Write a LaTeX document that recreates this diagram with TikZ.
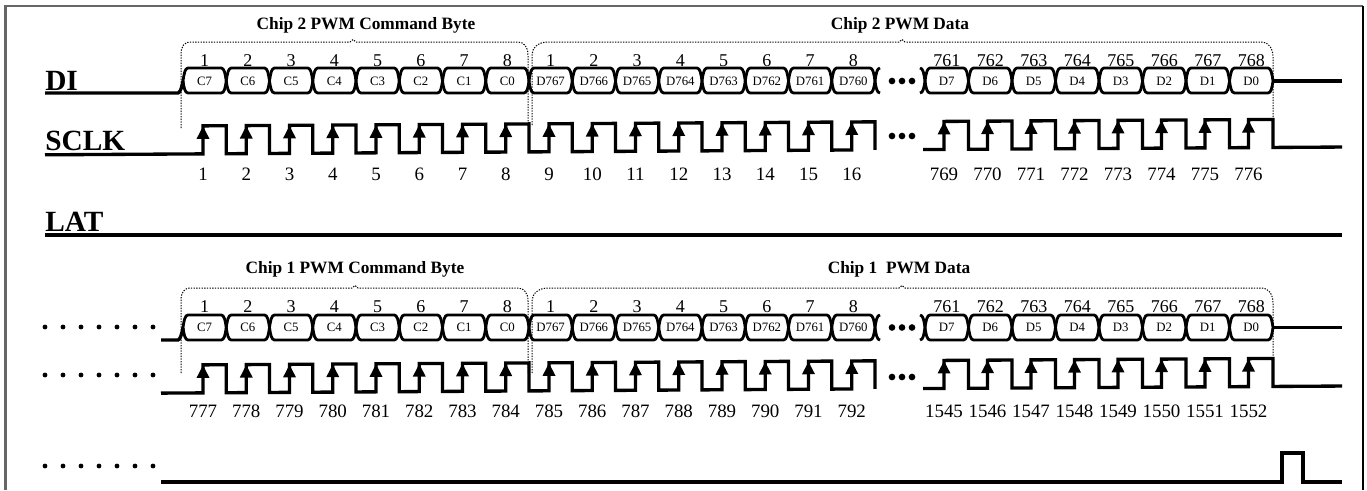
\documentclass[tikz,border=0pt]{standalone}
\usepackage{fontspec}
\setmainfont{Liberation Serif}
\tikzset{
  sig/.style={line width=2.5pt, line join=miter},
  boxl/.style={line width=2.1pt, line join=round},
  guide/.style={line width=0.75pt, dash pattern=on 1pt off 1pt},
  siglab/.style={anchor=base west, inner sep=0pt, font=\fontsize{22}{22}\selectfont\bfseries},
  ttl/.style={anchor=base, inner sep=0pt, font=\fontsize{13}{13}\selectfont\bfseries},
  bnum/.style={anchor=base, inner sep=0pt, font=\fontsize{13.5}{13.5}\selectfont},
  cnum/.style={anchor=base, inner sep=0pt, font=\fontsize{14.2}{14.2}\selectfont},
  btxt/.style={inner sep=0pt, font=\fontsize{9.6}{9.6}\selectfont},
}
% #1 left, #2 right, #3 top, #4 bottom, #5 mid
\newcommand{\dibox}[5]{%
  \draw[boxl] (#1,#5) .. controls (#1+1,#5-7) and (#1+2,#3) .. (#1+5,#3) -- (#2-5,#3)
    .. controls (#2-2,#3) and (#2-1,#5-7) .. (#2,#5)
    .. controls (#2-1,#5+7) and (#2-2,#4) .. (#2-5,#4) -- (#1+5,#4)
    .. controls (#1+2,#4) and (#1+1,#5+7) .. cycle;}
% DI row: #1 top, #2 bottom, #3 mid, #4 prefix, #5 number baseline, #6 left start
\newcommand{\dirow}[6]{%
  \foreach \lab [count=\k from 0] in {C7,C6,C5,C4,C3,C2,C1,C0,D767,D766,D765,D764,D763,D762,D761,D760}{
    \pgfmathsetmacro\xa{183+43.25*\k}
    \pgfmathsetmacro\xb{183+43.25*(\k+1)}
    \pgfmathsetmacro\xc{(\xa+\xb)/2}
    \pgfmathtruncatemacro\nn{mod(\k,8)+1}
    \dibox{\xa}{\xb}{#1}{#2}{#3}
    \node[btxt] (#4-a\k) at (\xc,#3) {\lab};
    \node[bnum] (#4-n\k) at (\xc,#5) {\nn};
  }
  \foreach \lab [count=\k from 0] in {D7,D6,D5,D4,D3,D2,D1,D0}{
    \pgfmathsetmacro\xa{925+43.5*\k}
    \pgfmathsetmacro\xb{925+43.5*(\k+1)}
    \pgfmathsetmacro\xc{(\xa+\xb)/2}
    \pgfmathtruncatemacro\nn{761+\k}
    \dibox{\xa}{\xb}{#1}{#2}{#3}
    \node[btxt] (#4-b\k) at (\xc,#3) {\lab};
    \node[bnum] (#4-m\k) at (\xc,#5) {\nn};
  }
  % stubs of the crossings
  \draw[boxl] (880,#1) .. controls (877,#1) and (876,#3-7) .. (875,#3)
    .. controls (876,#3+7) and (877,#2) .. (880,#2);
  \draw[boxl] (920,#1) .. controls (923,#1) and (924,#3-7) .. (925,#3)
    .. controls (924,#3+7) and (923,#2) .. (920,#2);
  % lead-in and tail
  \draw[sig] (#6,#2) -- (178,#2) .. controls (180,#2) and (182,#3+6) .. (183,#3);
  \draw[sig] (1273,#3) -- (1342,#3);
  \foreach \d in {892,902,912} \fill (\d,#3) circle (2.5pt);
}
% clock row: #1 high, #2 low, #3 start x
\newcommand{\clkrow}[3]{%
  \begin{scope}[yslant=0.006, yshift=-0.81pt]
    \draw[sig] (#3,#2) foreach \k in {0,...,15} {
      -- ({183+43.25*\k+20},#2) -- ({183+43.25*\k+20},#1)
      -- ({183+43.25*(\k+1)},#1) -- ({183+43.25*(\k+1)},#2) };
    \draw[sig] (923,#2) foreach \k in {0,...,7} {
      -- ({925+43.5*\k+19},#2) -- ({925+43.5*\k+19},#1)
      -- ({925+43.5*(\k+1)},#1) -- ({925+43.5*(\k+1)},#2) } -- (1342,#2);
    \foreach \k in {0,...,15}
      \fill ({183+43.25*\k+20-6.5},#1+13) -- ({183+43.25*\k+20+6.5},#1+13) -- ({183+43.25*\k+20},#1+0.5) -- cycle;
    \foreach \k in {0,...,7}
      \fill ({925+43.5*\k+19-6.5},#1+13) -- ({925+43.5*\k+19+6.5},#1+13) -- ({925+43.5*\k+19},#1+0.5) -- cycle;
  \end{scope}
}
\begin{document}
\begin{tikzpicture}[x=0.75pt, y=-0.75pt]
\useasboundingbox (0,0) rectangle (1367,490);
% frame
\draw[black!60, line width=1.6pt] (5.5,490) -- (5.5,6) -- (1363,6);
\draw[black, line width=1.6pt] (1363,6) -- (1363,490);

% ---------------- upper half ----------------
\node[ttl] (t2c) at (366,29) {Chip 2 PWM Command Byte};
\node[ttl] (t2d) at (900,29) {Chip 2 PWM Data};
\draw[guide] (181,128) -- (181,55) .. controls (181,46) and (184,42) .. (191,42) -- (350,42) -- (353,39.5) -- (356,42) -- (518,42) .. controls (524,42) and (528,47) .. (528,55) -- (528,125);
\draw[guide] (532,125) -- (532,55) .. controls (532,48) and (538,42) .. (548,42) -- (899,42) -- (902,39.5) -- (905,42) -- (1262,42) .. controls (1268,42) and (1273,48) .. (1273,57) -- (1273,118);

\node[siglab] (ldi) at (45,90) {DI};
\dirow{68}{93}{81}{u}{66.5}{45}

\node[siglab] (lclk) at (45,150) {SCLK};
\clkrow{126}{154}{45}
\foreach \d in {892,902,912} \fill (\d,136) circle (2.5pt);
\foreach \k in {0,...,15}{
  \pgfmathtruncatemacro\nn{\k+1}
  \node[cnum] (uc\k) at ({183+43.25*\k+20},180) {\nn};
}
\foreach \k in {0,...,7}{
  \pgfmathtruncatemacro\nn{769+\k}
  \node[cnum] (ud\k) at ({925+43.5*\k+19},180) {\nn};
}

\node[siglab] (llat) at (45,231) {LAT};
\draw[sig] (45,235) -- (1342,235);

% ---------------- lower half ----------------
\node[ttl] (t1c) at (355,273) {Chip 1 PWM Command Byte};
\node[ttl] (t1d) at (899,273) {Chip 1~~PWM Data};
\draw[guide] (181,373) -- (181,301) .. controls (181,292) and (184,288) .. (191,288) -- (352,288) -- (355,285.5) -- (358,288) -- (518,288) .. controls (524,288) and (528,293) .. (528,301) -- (528,373);
\draw[guide] (532,373) -- (532,301) .. controls (532,294) and (538,288) .. (548,288) -- (899,288) -- (902,285.5) -- (905,288) -- (1262,288) .. controls (1268,288) and (1273,294) .. (1273,303) -- (1273,373);

\foreach \i in {0,...,6} \fill (45+18*\i,327) circle (1.8pt);
\dirow{315}{340}{327.5}{l}{312.5}{161}

\foreach \i in {0,...,6} \fill (45+18*\i,375) circle (1.8pt);
\clkrow{365}{393}{161}
\foreach \d in {892,902,912} \fill (\d,377) circle (2.5pt);
\foreach \k in {0,...,15}{
  \pgfmathtruncatemacro\nn{777+\k}
  \node[cnum] (lc\k) at ({183+43.25*\k+20},417) {\nn};
}
\foreach \k in {0,...,7}{
  \pgfmathtruncatemacro\nn{1545+\k}
  \node[cnum] (ld\k) at ({925+43.5*\k+19},417) {\nn};
}

\foreach \i in {0,...,6} \fill (45+18*\i,466) circle (1.8pt);
\draw[sig] (161,482) -- (1282,482) -- (1282,453) -- (1303,453) -- (1303,482) -- (1342,482);
\end{tikzpicture}
\end{document}
